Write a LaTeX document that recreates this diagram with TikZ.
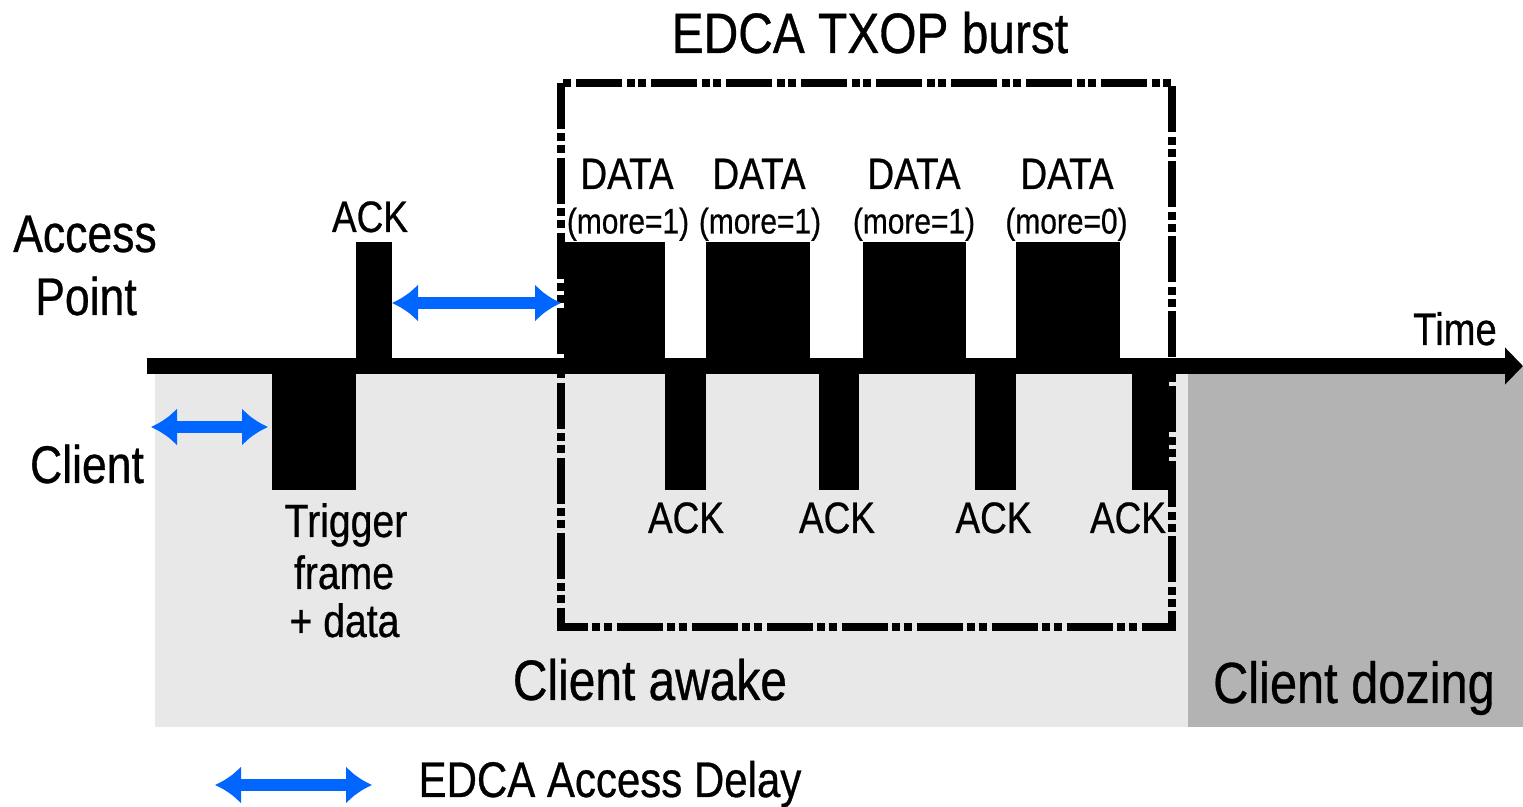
\documentclass[tikz,border=0pt]{standalone}
\usepackage{fontspec}
\setmainfont{Liberation Sans}[FakeStretch=0.84,FakeBold=0.6]
\usetikzlibrary{arrows.meta}

\definecolor{awakegrey}{HTML}{E8E8E8}
\definecolor{dozegrey}{HTML}{B3B3B3}
\definecolor{delayblue}{HTML}{0066FF}

\newcommand\fsz[1]{\fontsize{#1pt}{#1pt}\selectfont}

\begin{document}
\begin{tikzpicture}[x=0.5pt,y=-0.5pt,
  lbl/.style={inner sep=0pt, anchor=base},
  pkt/.style={fill=black},
  delayarrow/.style={draw=delayblue, line width=6pt,
    {Latex[length=13pt,width=19pt]}-{Latex[length=13pt,width=19pt]}},
  burstbox/.style={line width=4pt,
    dash pattern=on 23pt off 2.25pt on 4pt off 1.75pt on 4pt off 2.5pt}
]
\useasboundingbox (0,0) rectangle (1523,807);

% client state backgrounds
\fill[awakegrey] (155,366) rectangle (1188,727);
\fill[dozegrey] (1188,366) rectangle (1523,727);

% frames sent by the access point (above the time line)
\fill[pkt] (356,242) rectangle (392,366);
\fill[pkt] (564,242) rectangle (665,366);
\fill[pkt] (706,242) rectangle (810,366);
\fill[pkt] (863,242) rectangle (966,366);
\fill[pkt] (1016,242) rectangle (1120,366);

% frames sent by the client (below the time line)
\fill[pkt] (272,366) rectangle (356,490);
\fill[pkt] (665,366) rectangle (706,490);
\fill[pkt] (819,366) rectangle (859,490);
\fill[pkt] (975,366) rectangle (1016,490);
\fill[pkt] (1132,366) rectangle (1169,490);

% TXOP burst frame
\draw[burstbox] (560.5,83) rectangle (1172,627);

% time line
\coordinate (tstart) at (147,366);
\coordinate (tend) at (1523,366);
\draw[line width=8pt, -{Triangle[length=9pt,width=18pt]}] (tstart) -- (tend);

% access delays
\coordinate (apackend) at (392,303);
\coordinate (data1start) at (561,303);
\draw[delayarrow] (apackend) -- (data1start);
\coordinate (clstart) at (151,427);
\coordinate (trigstart) at (268,427);
\draw[delayarrow] (clstart) -- (trigstart);
\coordinate (legl) at (215,785);
\coordinate (legr) at (372,785);
\draw[delayarrow] (legl) -- (legr);

% labels
\node[lbl, font=\fsz{28.5}] (title) at (870,53) {EDCA TXOP burst};
\node[lbl, font=\fsz{26.5}] (ap1) at (85,252) {Access};
\node[lbl, font=\fsz{26.5}] (ap2) at (86,315) {Point};
\node[lbl, font=\fsz{26.5}] (cl) at (87,483) {Client};
\node[lbl, font=\fsz{22.75}] (time) at (1455,345) {Time};
\node[lbl, font=\fsz{22}] (apack) at (370,232) {ACK};

\node[lbl, font=\fsz{22}] (d1) at (627,189) {DATA};
\node[lbl, font=\fsz{22}] (d2) at (759,189) {DATA};
\node[lbl, font=\fsz{22}] (d3) at (914,189) {DATA};
\node[lbl, font=\fsz{22}] (d4) at (1067,189) {DATA};
\node[lbl, font=\fsz{17.8}] (m1) at (628,233.5) {(more=1)};
\node[lbl, font=\fsz{17.8}] (m2) at (760,233.5) {(more=1)};
\node[lbl, font=\fsz{17.8}] (m3) at (914,233.5) {(more=1)};
\node[lbl, font=\fsz{17.8}] (m4) at (1066.5,233.5) {(more=0)};

\node[lbl, font=\fsz{22}] (a1) at (686,533) {ACK};
\node[lbl, font=\fsz{22}] (a2) at (837,533) {ACK};
\node[lbl, font=\fsz{22}] (a3) at (993.5,533) {ACK};
\node[lbl, font=\fsz{22}] (a4) at (1128,533) {ACK};

\node[lbl, font=\fsz{23.3}] (tr1) at (346,537) {Trigger};
\node[lbl, font=\fsz{23.3}] (tr2) at (344,589) {frame};
\node[lbl, font=\fsz{23.3}] (tr3) at (344.5,637) {+ data};

\node[lbl, font=\fsz{28.5}] (awake) at (650,700) {Client awake};
\node[lbl, font=\fsz{29}] (dozing) at (1354,703) {Client dozing};
\node[lbl, font=\fsz{25}] (legend) at (610,797) {EDCA Access Delay};
\end{tikzpicture}
\end{document}
